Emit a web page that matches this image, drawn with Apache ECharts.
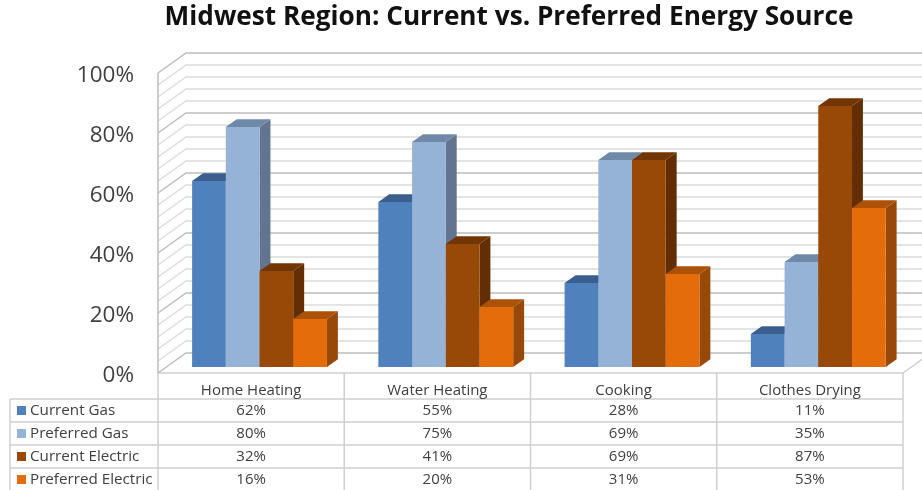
<!DOCTYPE html>
<html>
<head>
<meta charset="utf-8">
<style>html,body{margin:0;padding:0;background:#fff}#chart{width:922px;height:490px}</style>
<script src="https://cdn.jsdelivr.net/npm/echarts@6/dist/echarts.min.js"></script>
</head>
<body>
<div id="chart"></div>
<script>
const categories = ['Home Heating', 'Water Heating', 'Cooking', 'Clothes Drying'];
const currentGas = [62, 55, 28, 11];
const preferredGas = [80, 75, 69, 35];
const currentElectric = [32, 41, 69, 87];
const preferredElectric = [16, 20, 31, 53];
const gridTicks = [0, 4, 8, 12, 16, 20, 24, 28, 32, 36, 40, 44, 48, 52, 56, 60, 64, 68, 72, 76, 80, 84, 88, 92, 96, 100];

const seriesDefs = [
  { name: 'Current Gas', values: currentGas, front: '#4f81bd', top: '#3a5f8e', side: '#3a5f8e' },
  { name: 'Preferred Gas', values: preferredGas, front: '#95b3d7', top: '#7189a8', side: '#62748f' },
  { name: 'Current Electric', values: currentElectric, front: '#984807', top: '#713604', side: '#632f02' },
  { name: 'Preferred Electric', values: preferredElectric, front: '#e46c0a', top: '#ac5108', side: '#984807' }
];

// Oblique projection of the plot box
const WALL_DX = 28, WALL_DY = -20;
const BAR_OFFSET = 0.3, BAR_DEPTH = 0.39, BAR_SHARE = 0.181;

// Table layout
const PLOT_LEFT = 158, PLOT_WIDTH = 745, PLOT_BOTTOM = 373;
const ROW_TOPS = [399, 422, 445, 468], TABLE_LEFT = 10, TABLE_BOTTOM = 490;
const LINE = '#cfcfcf', TEXT = '#404040';

function wallItem(params, api) {
  const tick = api.value(1);
  const major = tick % 20 === 0;
  const y = api.coord([0, tick])[1];
  const x0 = params.coordSys.x, x1 = x0 + params.coordSys.width;
  return {
    type: 'polyline',
    shape: { points: [[x0, y], [x0 + WALL_DX, y + WALL_DY], [x1 + WALL_DX, y + WALL_DY]] },
    style: { fill: null, stroke: major ? '#bdbdbd' : '#dcdcdc', lineWidth: 1.5 }
  };
}

function barItem(def, index) {
  return function (params, api) {
    const cat = api.value(0), val = api.value(1);
    const band = api.size([1, 0])[0];
    const w = band * BAR_SHARE;
    const center = api.coord([cat, 0]);
    const base = api.coord([cat, val]);
    const ox = WALL_DX * BAR_OFFSET, oy = WALL_DY * BAR_OFFSET;
    const dx = WALL_DX * BAR_DEPTH, dy = WALL_DY * BAR_DEPTH;
    const l = center[0] + ox + (index - 2) * w, r = l + w;
    const t = base[1] + oy, b = center[1] + oy;
    return {
      type: 'group',
      children: [
        { type: 'polygon', shape: { points: [[r, t], [r + dx, t + dy], [r + dx, b + dy], [r, b]] }, style: { fill: def.side } },
        { type: 'polygon', shape: { points: [[l, t], [l + dx, t + dy], [r + dx, t + dy], [r, t]] }, style: { fill: def.top } },
        { type: 'rect', shape: { x: l, y: t, width: w, height: b - t }, style: { fill: def.front } }
      ]
    };
  };
}

// Data table under the plot: rules and cell text
const tableGraphics = [];
function rule(x1, y1, x2, y2) {
  tableGraphics.push({ type: 'line', silent: true, shape: { x1, y1, x2, y2 }, style: { stroke: LINE, lineWidth: 1.5 } });
}
ROW_TOPS.forEach(y => rule(TABLE_LEFT, y, PLOT_LEFT + PLOT_WIDTH, y));
rule(TABLE_LEFT, ROW_TOPS[0], TABLE_LEFT, TABLE_BOTTOM);
categories.forEach((c, i) => rule(PLOT_LEFT + PLOT_WIDTH * i / 4, PLOT_BOTTOM, PLOT_LEFT + PLOT_WIDTH * i / 4, TABLE_BOTTOM));
rule(PLOT_LEFT + PLOT_WIDTH, PLOT_BOTTOM, PLOT_LEFT + PLOT_WIDTH, TABLE_BOTTOM);
seriesDefs.forEach((def, row) => {
  def.values.forEach((v, col) => {
    tableGraphics.push({
      type: 'text', silent: true,
      x: PLOT_LEFT + PLOT_WIDTH * (col + 0.5) / 4,
      y: ROW_TOPS[row] + 11.5,
      style: { text: v + '%', fill: TEXT, font: '15px "Open Sans"', align: 'center', verticalAlign: 'middle' }
    });
  });
});

const option = {
  animation: false,
  backgroundColor: '#fff',
  title: {
    text: 'Midwest Region: Current vs. Preferred Energy Source',
    left: 504, top: 0, textAlign: 'center',
    textStyle: { fontFamily: 'Open Sans', fontWeight: 'bold', fontSize: 26.2, color: '#111' }
  },
  legend: {
    orient: 'vertical', left: 17, top: 399, padding: 0, itemGap: 0, height: 100,
    itemWidth: 9, itemHeight: 9, icon: 'rect', selectedMode: false,
    data: seriesDefs.map(d => d.name),
    textStyle: { fontFamily: 'Open Sans', fontSize: 15.2, color: TEXT, lineHeight: 23, height: 23, padding: [0, 0, 0, -1] }
  },
  grid: { left: PLOT_LEFT, width: PLOT_WIDTH, top: 73, height: 300 },
  xAxis: {
    type: 'category', data: categories,
    axisTick: { show: false },
    axisLine: { show: true, lineStyle: { color: LINE, width: 1.5 } },
    axisLabel: { margin: 10, fontFamily: 'Open Sans', fontSize: 15, color: TEXT },
    splitLine: { show: false }
  },
  yAxis: {
    type: 'value', min: 0, max: 100, interval: 20,
    axisLine: { show: false }, axisTick: { show: false }, splitLine: { show: false },
    axisLabel: { formatter: '{value}%', margin: 24, verticalAlign: 'top', lineHeight: 5, fontFamily: 'Open Sans', fontSize: 22.5, color: TEXT }
  },
  graphic: tableGraphics,
  series: [
    {
      type: 'custom', name: 'walls', silent: true, z: 1,
      data: gridTicks.map(t => [0, t]),
      renderItem: wallItem
    },
    {
      type: 'custom', name: 'edges', silent: true, z: 1,
      data: [[0, 0]],
      renderItem: function (params, api) {
        const cs = params.coordSys, b = api.coord([0, 0])[1], t = api.coord([0, 100])[1];
        return {
          type: 'group',
          children: [
            { type: 'line', shape: { x1: cs.x, y1: t, x2: cs.x, y2: b }, style: { stroke: '#bdbdbd', lineWidth: 1.5 } },
            { type: 'line', shape: { x1: cs.x + cs.width, y1: b, x2: cs.x + cs.width + WALL_DX, y2: b + WALL_DY }, style: { stroke: '#cfcfcf', lineWidth: 1.5 } }
          ]
        };
      }
    }
  ].concat(seriesDefs.map((def, i) => ({
    type: 'custom', name: def.name, z: 2 + i,
    itemStyle: { color: def.front },
    data: def.values.map((v, c) => [c, v]),
    renderItem: barItem(def, i)
  })))
};

echarts.init(document.getElementById('chart'), null, { renderer: 'canvas' }).setOption(option);
</script>
</body>
</html>
